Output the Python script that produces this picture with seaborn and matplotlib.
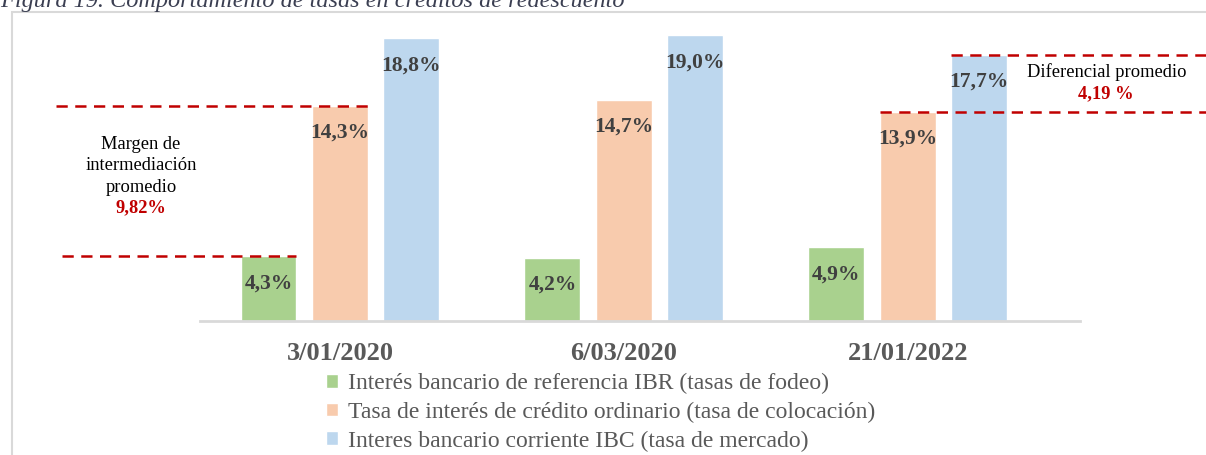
import numpy as np
import pandas as pd
import matplotlib
matplotlib.use("Agg")
import matplotlib.pyplot as plt
import seaborn as sns
from matplotlib.patches import Rectangle

# datos
fechas = ["3/01/2020", "6/03/2020", "21/01/2022"]
series = ["Interés bancario de referencia IBR (tasas de fodeo)",
          "Tasa de interés de crédito ordinario (tasa de colocación)",
          "Interes bancario corriente IBC (tasa de mercado)"]
ibr = [4.3, 4.2, 4.9]
colocacion = [14.3, 14.7, 13.9]
ibc = [18.8, 19.0, 17.7]
colores = ["#a9d18e", "#f8cbad", "#bdd7ee"]

titulo = "Figura 19. Comportamiento de tasas en créditos de redescuento"
txt_margen = "Margen de\nintermediación\npromedio"
val_margen = "9,82%"
txt_dif = "Diferencial promedio"
val_dif = "4,19 %"

rojo = "#c00000"
gris = "#404040"

df = pd.DataFrame({
    "fecha": fechas * 3,
    "serie": [series[0]] * 3 + [series[1]] * 3 + [series[2]] * 3,
    "valor": ibr + colocacion + ibc,
})

sns.set_theme(style="white")
plt.rcParams["font.family"] = ["Liberation Serif", "DejaVu Serif"]

fig = plt.figure(figsize=(12.06, 4.55), dpi=100)
ax = fig.add_axes([0.1658, 0.2945, 0.7297, 0.6615])

sns.barplot(data=df, x="fecha", y="valor", hue="serie", palette=colores,
            width=0.755, gap=0.217, saturation=1, errorbar=None, ax=ax)

ax.set_xlim(-0.493, 2.606)
ax.set_ylim(0, 20)
ax.set_xlabel("")
ax.set_ylabel("")
ax.set_yticks([])
for s in ["top", "right", "left"]:
    ax.spines[s].set_visible(False)
ax.spines["bottom"].set_color("#d9d9d9")
ax.spines["bottom"].set_linewidth(2)
ax.tick_params(axis="x", length=0, pad=15)
for lab in ax.get_xticklabels():
    lab.set_fontsize(19)
    lab.set_fontweight("bold")
    lab.set_color("#595959")

# etiquetas de las barras
for cont in ax.containers:
    for bar in cont:
        h = bar.get_height()
        ax.annotate(f"{h:.1f}".replace(".", ",") + "%",
                    (bar.get_x() + bar.get_width() / 2, h),
                    xytext=(0, -19.5), textcoords="offset points",
                    ha="center", va="center", fontsize=15.5,
                    fontweight="bold", color=gris)

# lineas de referencia
ls = (0, (4.5, 3))
barras = ax.containers
x_ini_izq = -1.0
x_fin_der = 3.4
ax.plot([x_ini_izq, barras[1][0].get_x() + barras[1][0].get_width()],
        [colocacion[0]] * 2, color=rojo, lw=1.8, ls=ls, clip_on=False)
ax.plot([x_ini_izq + 0.02, barras[0][0].get_x() + barras[0][0].get_width()],
        [ibr[0]] * 2, color=rojo, lw=1.8, ls=ls, clip_on=False)
ax.plot([barras[2][2].get_x(), x_fin_der],
        [ibc[2]] * 2, color=rojo, lw=1.8, ls=ls, clip_on=False)
ax.plot([barras[1][2].get_x(), x_fin_der],
        [colocacion[2]] * 2, color=rojo, lw=1.8, ls=ls, clip_on=False)

# textos
fig.text(141 / 1206, 1 - 166 / 455, txt_margen, ha="center", va="center",
         fontsize=13.3, color="black", linespacing=1.32)
fig.text(141 / 1206, 1 - 208 / 455, val_margen, ha="center", va="center",
         fontsize=13.3, color=rojo, fontweight="bold")
fig.text(1107 / 1206, 1 - 72 / 455, txt_dif, ha="center", va="center",
         fontsize=13.3, color="black")
fig.text(1106 / 1206, 1 - 94 / 455, val_dif, ha="center", va="center",
         fontsize=13.3, color=rojo, fontweight="bold")

# leyenda
handles, labels = ax.get_legend_handles_labels()
if ax.get_legend() is not None:
    ax.get_legend().remove()
leg = fig.legend(handles, labels, loc="upper left",
                 bbox_to_anchor=(326 / 1206, 1 - 373 / 455),
                 frameon=False, fontsize=17, handlelength=0.5,
                 handleheight=0.5, handletextpad=0.45, labelspacing=0.32,
                 borderaxespad=0, borderpad=0)
for t in leg.get_texts():
    t.set_color("#595959")

# titulo (cortado arriba) y marco
fig.text(0.0, 1 - 7 / 455, titulo, ha="left", va="baseline",
         fontsize=17.5, style="italic", color="#3b3f52")
fig.patches.append(Rectangle((12 / 1206, -0.1), 1.2, 1.1 - 12 / 455,
                             transform=fig.transFigure, fill=False,
                             edgecolor="#d9d9d9", lw=1.5))

fig.savefig("out.png", dpi=100)
